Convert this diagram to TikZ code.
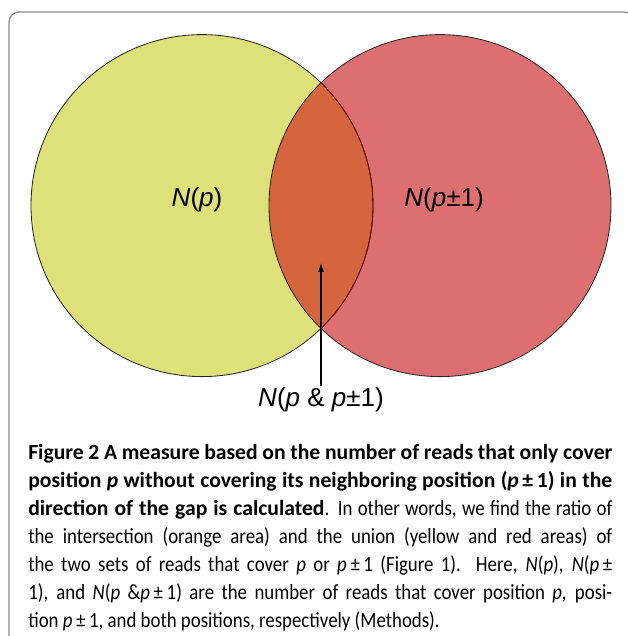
\documentclass[tikz,border=0pt]{standalone}
\usepackage{fontspec}
\setmainfont{Liberation Sans}
\newfontfamily\captionfont[UprightFeatures={FakeStretch=0.87}, ItalicFeatures={FakeStretch=0.87}]{Carlito}
\usetikzlibrary{arrows.meta}
\definecolor{vennyellow}{HTML}{DEE07A}
\definecolor{vennred}{HTML}{DD6F71}
\definecolor{vennorange}{HTML}{D5653D}
\definecolor{framegray}{HTML}{8A8A8A}
\begin{document}
\begin{tikzpicture}[
            set/.style={draw=black!85, line width=0.6pt},
            lbl/.style={font=\fontsize{18.5}{22}\selectfont, inner sep=1pt},
            capt/.style={font=\captionfont\fontsize{15.4}{19.9}\selectfont, text width=14.6cm, align=justify, inner sep=0pt, anchor=north west}
        ]
        \useasboundingbox (0,0) rectangle (15.7,15.9);
        \clip (0,0) rectangle (15.7,15.9);

        % Frame
        \draw[framegray, line width=0.9pt, rounded corners=0.25cm] (0.225,-0.3) rectangle (15.85,15.6);

        % The Sets
        \fill[vennyellow] (5.05,10.76) circle (4.275); \fill[vennred] (11,10.76) circle (4.275);
        \begin{scope}
            \clip (5.05,10.76) circle (4.275); \fill[vennorange] (11,10.76) circle (4.275);
        \end{scope}
        \draw[set] (5.05,10.76) circle (4.275);
        \begin{scope}
            \clip (11,10.76) circle (4.275); \draw[set, draw=red!45!black] (5.05,10.76) circle (4.275);
        \end{scope}
        \draw[set] (11,10.76) circle (4.275);

        % Set Labels
        \node[lbl] (np) at (4.925,10.9) {\textit{N}(\textit{p})}; \node[lbl] (npm) at (11.1,10.9) {\textit{N}(\textit{p}±1)};
        \node[lbl] (both) at (8.025,5.9) {\textit{N}(\textit{p} \& \textit{p}±1)};
        \coordinate (tip) at (8.025,9.325);
        \draw[line width=0.8pt, -{Latex[length=2.2mm, width=1.5mm]}] (both) -- (tip);

        % Caption
        \node[capt] (caption) at (0.7,4.8) {\hyphenpenalty=10000\relax{\bfseries Figure 2 A measure based on the number of reads that only cover\linebreak position \textit{p} without covering its neighboring position (\textit{p}\,±\,1) in the\linebreak direction of the gap is calculated}. In other words, we find the ratio of\linebreak the intersection (orange area) and the union (yellow and red areas) of\linebreak the two sets of reads that cover \textit{p} or \textit{p}\,±\,1 (Figure 1). Here, \textit{N}(\textit{p}), \textit{N}(\textit{p}\,±\linebreak 1), and \textit{N}(\textit{p} \&\textit{p}\,±\,1) are the number of reads that cover position \textit{p,} posi-\linebreak tion \textit{p}\,±\,1, and both positions, respectively (Methods).};

    \end{tikzpicture}
\end{document}
